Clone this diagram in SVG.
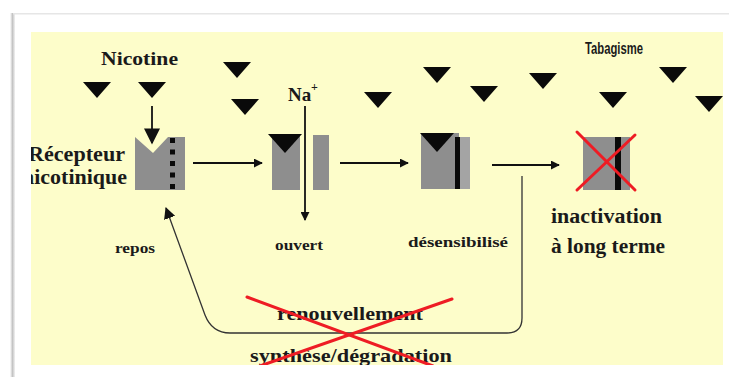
<svg xmlns="http://www.w3.org/2000/svg" width="729" height="377" viewBox="0 0 729 377">
  <defs>
    <style>
      .lbl { font-family: "Liberation Serif", "Times New Roman", serif; font-weight: bold; fill: #1a1a1a; }
      .sans { font-family: "Liberation Sans", Arial, sans-serif; font-weight: bold; fill: #1a1a1a; }
      .flow { stroke: #111; stroke-width: 1.8; fill: none; }
      .loop { stroke: #333; stroke-width: 1.3; fill: none; }
      .cross { stroke: #ee1c24; stroke-width: 3; stroke-linecap: round; }
      .grey { fill: #8e8e8e; }
      .ink { fill: #0a0a0a; }
    </style>
    <path id="tri" d="M-14,0 L14,0 L0,16 Z" fill="#0a0a0a"/>
    <marker id="head" viewBox="0 0 10 10" refX="9" refY="5" markerWidth="5" markerHeight="5" orient="auto" markerUnits="strokeWidth">
      <path d="M0,0 L10,5 L0,10 Z" fill="#111"/>
    </marker>
    <marker id="headThin" viewBox="0 0 10 10" refX="9" refY="5" markerWidth="9" markerHeight="9" orient="auto" markerUnits="strokeWidth">
      <path d="M0,0 L10,5 L0,10 Z" fill="#111"/>
    </marker>
    <clipPath id="panel">
      <rect x="31" y="32" width="692" height="333"/>
    </clipPath>
    <linearGradient id="edge" x1="0" x2="1" y1="0" y2="0">
      <stop offset="0" stop-color="#ffffff"/>
      <stop offset="0.5" stop-color="#c4c4c4"/>
      <stop offset="1" stop-color="#f2f2f2"/>
    </linearGradient>
  </defs>

  <!-- page and frame -->
  <rect x="0" y="0" width="729" height="377" fill="#ffffff"/>
  <rect x="10" y="13" width="5" height="364" fill="url(#edge)"/>
  <rect x="13" y="13" width="716" height="1.5" fill="#e6e6e6"/>
  <rect x="31" y="32" width="692" height="333" fill="#fdfdca"/>

  <g clip-path="url(#panel)">
    <!-- nicotine molecules -->
    <g id="molecules">
      <use href="#tri" x="97" y="82"/>
      <use href="#tri" x="152" y="82"/>
      <use href="#tri" x="237" y="62"/>
      <use href="#tri" x="245" y="99"/>
      <use href="#tri" x="378" y="92"/>
      <use href="#tri" x="437" y="67"/>
      <use href="#tri" x="484" y="86"/>
      <use href="#tri" x="543" y="73"/>
      <use href="#tri" x="613" y="92"/>
      <use href="#tri" x="673" y="67"/>
      <use href="#tri" x="709" y="96"/>
    </g>

    <!-- titles -->
    <g id="title-nicotine">
      <text class="lbl" x="101" y="65" font-size="19" textLength="77" lengthAdjust="spacingAndGlyphs">Nicotine</text>
    </g>
    <g id="title-tabagisme">
      <text class="sans" x="585" y="54" font-size="16" textLength="58" lengthAdjust="spacingAndGlyphs">Tabagisme</text>
    </g>
    <g id="sodium">
      <text class="lbl" x="288" y="101" font-size="19" font-weight="normal">Na</text>
      <text class="lbl" x="311" y="91" font-size="12">+</text>
    </g>

    <!-- resting receptor -->
    <g id="receptor-repos">
      <path class="grey" d="M135,137 L153,153 L168,137 L185,137 L185,190 L135,190 Z"/>
      <rect class="ink" x="170" y="138" width="5" height="5"/>
      <rect class="ink" x="170" y="149.5" width="5" height="5"/>
      <rect class="ink" x="170" y="161" width="5" height="5"/>
      <rect class="ink" x="170" y="172.5" width="5" height="5"/>
      <rect class="ink" x="170" y="184" width="5" height="5"/>
      <text class="lbl" x="28" y="161" font-size="20" textLength="97" lengthAdjust="spacingAndGlyphs">Récepteur</text>
      <text class="lbl" x="22" y="184" font-size="20" textLength="105" lengthAdjust="spacingAndGlyphs">nicotinique</text>
      <text class="lbl" x="115" y="253" font-size="15" textLength="40" lengthAdjust="spacingAndGlyphs">repos</text>
    </g>

    <!-- open receptor -->
    <g id="receptor-ouvert">
      <rect class="grey" x="272" y="135" width="28" height="55"/>
      <rect class="grey" x="313" y="135" width="16" height="55"/>
      <path class="ink" d="M268,134 L302,134 L285,153 Z"/>
      <text class="lbl" x="275" y="250" font-size="15" textLength="48" lengthAdjust="spacingAndGlyphs">ouvert</text>
    </g>

    <!-- desensitised receptor -->
    <g id="receptor-desensibilise">
      <rect class="grey" x="421" y="133" width="38" height="56"/>
      <rect x="459" y="137" width="11" height="52" fill="#a4a4a4"/>
      <rect class="ink" x="455" y="137" width="5" height="52"/>
      <path class="ink" d="M420,133 L454,133 L437,152 Z"/>
      <text class="lbl" x="408" y="247" font-size="15" textLength="100" lengthAdjust="spacingAndGlyphs">désensibilisé</text>
    </g>

    <!-- inactivated receptor -->
    <g id="receptor-inactive">
      <rect class="grey" x="583" y="137" width="47" height="53"/>
      <rect class="ink" x="615" y="137" width="6" height="53"/>
      <line class="cross" x1="577" y1="132" x2="635" y2="190" stroke-width="4"/>
      <line class="cross" x1="635" y1="135" x2="577" y2="190" stroke-width="4"/>
      <text class="lbl" x="551" y="223" font-size="20" textLength="111" lengthAdjust="spacingAndGlyphs">inactivation</text>
      <text class="lbl" x="551" y="253" font-size="20" textLength="114" lengthAdjust="spacingAndGlyphs">à long terme</text>
    </g>

    <!-- renewal (blocked) -->
    <g id="renouvellement">
      <text class="lbl" x="277" y="320" font-size="19" textLength="146" lengthAdjust="spacingAndGlyphs">renouvellement</text>
      <text class="lbl" x="250" y="362" font-size="19" textLength="202" lengthAdjust="spacingAndGlyphs">synthèse/dégradation</text>
    </g>

    <!-- connectors -->
    <g id="connectors">
      <line class="flow" x1="152" y1="106" x2="152" y2="143" stroke-width="1.3" marker-end="url(#headThin)"/>
      <line class="flow" x1="305" y1="106" x2="305" y2="220" marker-end="url(#head)"/>
      <line class="flow" x1="193" y1="163" x2="262" y2="163" marker-end="url(#head)"/>
      <line class="flow" x1="340" y1="163" x2="408" y2="163" marker-end="url(#head)"/>
      <line class="flow" x1="492" y1="165" x2="559" y2="165" marker-end="url(#head)"/>
      <path class="loop" d="M522,176 L522,318 Q522,333 507,333 L230,333 Q212,333 205,315 L166,208" marker-end="url(#headThin)"/>
      <line class="cross" x1="247" y1="297" x2="433" y2="366"/>
      <line class="cross" x1="452" y1="299" x2="260" y2="366"/>
    </g>
  </g>
</svg>
